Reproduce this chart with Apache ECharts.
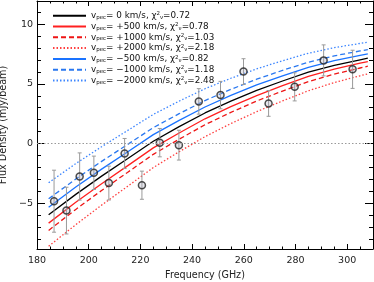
<!DOCTYPE html>
<html><head><meta charset="utf-8">
<script src="https://cdn.jsdelivr.net/npm/echarts@6/dist/echarts.min.js"></script>
<style>html,body{margin:0;padding:0;background:#fff}#c{width:374px;height:282px}</style>
</head><body><div id="c"></div>
<script>
// model curve sample frequencies (GHz)
const modelFreq = [184.5, 195, 205, 215, 225, 235, 245, 255, 265, 275, 285, 295, 305, 308];
// model curves (mJy/beam)
const curveV0    = [-5.98, -4.27, -2.74, -1.28, 0.19, 1.41, 2.56, 3.55, 4.45, 5.24, 5.98, 6.56, 7.02, 7.15];
const curveP500  = [-6.68, -4.93, -3.37, -1.88, -0.37, 0.88, 2.07, 3.09, 4.02, 4.85, 5.62, 6.24, 6.73, 6.87];
const curveP1000 = [-7.29, -5.53, -3.94, -2.43, -0.91, 0.36, 1.57, 2.61, 3.56, 4.40, 5.19, 5.82, 6.33, 6.48];
const curveP2000 = [-8.62, -6.81, -5.17, -3.60, -2.02, -0.69, 0.57, 1.67, 2.67, 3.57, 4.42, 5.11, 5.68, 5.84];
const curveM500  = [-5.34, -3.65, -2.15, -0.71, 0.74, 1.94, 3.06, 4.03, 4.91, 5.67, 6.39, 6.95, 7.39, 7.51];
const curveM1000 = [-4.64, -2.98, -1.50, -0.09, 1.33, 2.50, 3.60, 4.54, 5.39, 6.13, 6.82, 7.35, 7.76, 7.88];
const curveM2000 = [-3.29, -1.69, -0.27, 1.08, 2.44, 3.55, 4.59, 5.47, 6.26, 6.94, 7.57, 8.04, 8.39, 8.49];
// legend texts
const vpecLabels = ['0', '+500', '+1000', '+2000', '\u2212500', '\u22121000', '\u22122000'];
const chi2Labels = ['0.72', '0.78', '1.03', '2.18', '0.82', '1.18', '2.48'];
// observations
const obsFreq = [186.6, 191.4, 196.5, 202.0, 207.8, 213.9, 220.6, 227.5, 234.9, 242.6, 251.0, 259.9, 269.6, 279.7, 290.9, 302.1];
const obsFlux = [-4.84, -5.63, -2.77, -2.46, -3.32, -0.84, -3.50, 0.07, -0.14, 3.53, 4.06, 6.03, 3.36, 4.75, 6.97, 6.22];
const obsErr  = [2.60, 1.96, 1.98, 1.40, 1.42, 1.26, 1.18, 1.19, 1.25, 1.07, 1.15, 1.08, 1.08, 1.18, 1.30, 1.60];
// ticks
const xMajorTicks = [180, 200, 220, 240, 260, 280, 300];
const xMinorTicks = [185, 190, 195, 205, 210, 215, 225, 230, 235, 245, 250, 255, 265, 270, 275, 285, 290, 295, 305];
const yMajorTicks = [-5, 0, 5, 10];
const yMinorTicks = [-8, -7, -6, -4, -3, -2, -1, 1, 2, 3, 4, 6, 7, 8, 9, 11];

const FONT = 'DejaVu Sans';
const X_MIN = 180, X_MAX = 310, Y_MIN = -8.85, Y_MAX = 11.95;

const curves = [
  {key: 'v0', data: curveV0, color: '#000000', type: 'solid'},
  {key: 'p500', data: curveP500, color: '#ff2020', type: 'solid'},
  {key: 'p1000', data: curveP1000, color: '#ee1515', type: [5, 3]},
  {key: 'p2000', data: curveP2000, color: '#ff4040', type: [1.5, 2]},
  {key: 'm500', data: curveM500, color: '#1a73ff', type: 'solid'},
  {key: 'm1000', data: curveM1000, color: '#2a78f0', type: [5, 3]},
  {key: 'm2000', data: curveM2000, color: '#3d86ff', type: [1.5, 2]}
];
const keys = curves.map(c => c.key);

function xAx(pos, ticks, len, labels, line) {
  return {
    type: 'value', position: pos, min: X_MIN, max: X_MAX,
    axisLine: {show: line, onZero: false, lineStyle: {color: '#000', width: 1}},
    axisTick: {show: true, inside: true, length: len, customValues: ticks, lineStyle: {color: '#000', width: 1}},
    axisLabel: labels ? {show: true, customValues: ticks, margin: 7, color: '#222', fontFamily: FONT, fontSize: 9.5} : {show: false},
    splitLine: {show: false}
  };
}
function yAx(pos, ticks, len, labels, line) {
  return {
    type: 'value', position: pos, min: Y_MIN, max: Y_MAX,
    axisLine: {show: line, onZero: false, lineStyle: {color: '#000', width: 1}},
    axisTick: {show: true, inside: true, length: len, customValues: ticks, lineStyle: {color: '#000', width: 1}},
    axisLabel: labels ? {show: true, customValues: ticks, margin: 4, color: '#222', fontFamily: FONT, fontSize: 9.5,
      formatter: v => (v < 0 ? '\u2212' + Math.abs(v) : '' + v)} : {show: false},
    splitLine: {show: false}
  };
}

const xAxes = [
  xAx('bottom', xMajorTicks, 5, true, true),
  xAx('bottom', xMinorTicks, 2.5, false, false),
  xAx('top', xMajorTicks, 5, false, true),
  xAx('top', xMinorTicks, 2.5, false, false)
];
xAxes[0].name = 'Frequency (GHz)';
xAxes[0].nameLocation = 'middle';
xAxes[0].nameGap = 20;
xAxes[0].nameTextStyle = {fontFamily: FONT, fontSize: 9.6, color: '#222'};

const yAxes = [
  yAx('left', yMajorTicks, 8, true, true),
  yAx('left', yMinorTicks, 4, false, false),
  yAx('right', yMajorTicks, 8, false, true),
  yAx('right', yMinorTicks, 4, false, false)
];
yAxes[0].name = 'Flux Density (mJy/beam)';
yAxes[0].nameLocation = 'middle';
yAxes[0].nameGap = 25;
yAxes[0].nameTextStyle = {fontFamily: FONT, fontSize: 9.6, color: '#222'};

const series = curves.map((c, i) => ({
  name: c.key, type: 'line', xAxisIndex: 0, yAxisIndex: 0,
  data: modelFreq.map((f, j) => [f, c.data[j]]),
  showSymbol: false, symbol: 'none', smooth: false,
  lineStyle: {color: c.color, width: 1.3, type: c.type},
  itemStyle: {color: c.color},
  z: 2,
  markLine: i === 0 ? {silent: true, symbol: 'none', label: {show: false},
    lineStyle: {color: '#999', width: 1, type: [1.5, 2]}, data: [{yAxis: 0}]} : undefined
}));

series.push({
  type: 'custom', xAxisIndex: 0, yAxisIndex: 0, silent: true, z: 3,
  data: obsFreq.map((f, i) => [f, obsFlux[i] - obsErr[i], obsFlux[i] + obsErr[i]]),
  encode: {x: 0, y: [1, 2]},
  renderItem: (params, api) => {
    const lo = api.coord([api.value(0), api.value(1)]);
    const hi = api.coord([api.value(0), api.value(2)]);
    const w = 2, st = {stroke: '#9a9a9a', lineWidth: 1};
    return {type: 'group', children: [
      {type: 'line', shape: {x1: lo[0], y1: lo[1], x2: hi[0], y2: hi[1]}, style: st},
      {type: 'line', shape: {x1: lo[0] - w, y1: lo[1], x2: lo[0] + w, y2: lo[1]}, style: st},
      {type: 'line', shape: {x1: hi[0] - w, y1: hi[1], x2: hi[0] + w, y2: hi[1]}, style: st}
    ]};
  }
});
series.push({
  type: 'scatter', xAxisIndex: 0, yAxisIndex: 0, z: 4, silent: true,
  data: obsFreq.map((f, i) => [f, obsFlux[i]]),
  symbol: 'circle', symbolSize: 7,
  itemStyle: {color: 'rgba(170,170,190,0.35)', borderColor: '#222', borderWidth: 1.5}
});

const chart = echarts.init(document.getElementById('c'), null, {renderer: 'canvas'});
chart.setOption({
  animation: false,
  backgroundColor: '#fff',
  grid: {left: 37, right: 1, top: 1, bottom: 33, containLabel: false, outerBoundsMode: 'none'},
  xAxis: xAxes,
  yAxis: yAxes,
  legend: {
    orient: 'vertical', left: 52, top: 11, padding: 0, itemWidth: 33, itemHeight: 8, itemGap: 1.4,
    data: keys, selectedMode: false, itemStyle: {opacity: 0},
    formatter: name => {
      const i = keys.indexOf(name);
      return '{m|v}{s|pec}{m|= ' + vpecLabels[i] + ' km/s, \u03c7}{u|2}{s|\u03bd}{m|=' + chi2Labels[i] + '}';
    },
    textStyle: {
      fontFamily: FONT, fontSize: 8.8, color: '#111', lineHeight: 9.4,
      rich: {
        m: {fontFamily: FONT, fontSize: 8.8, color: '#111', lineHeight: 9.4},
        s: {fontFamily: FONT, fontSize: 5.5, color: '#111', lineHeight: 9.4, verticalAlign: 'bottom'},
        u: {fontFamily: FONT, fontSize: 5.5, color: '#111', lineHeight: 9.4, verticalAlign: 'top'}
      }
    }
  },
  series: series
});
</script>
</body></html>
